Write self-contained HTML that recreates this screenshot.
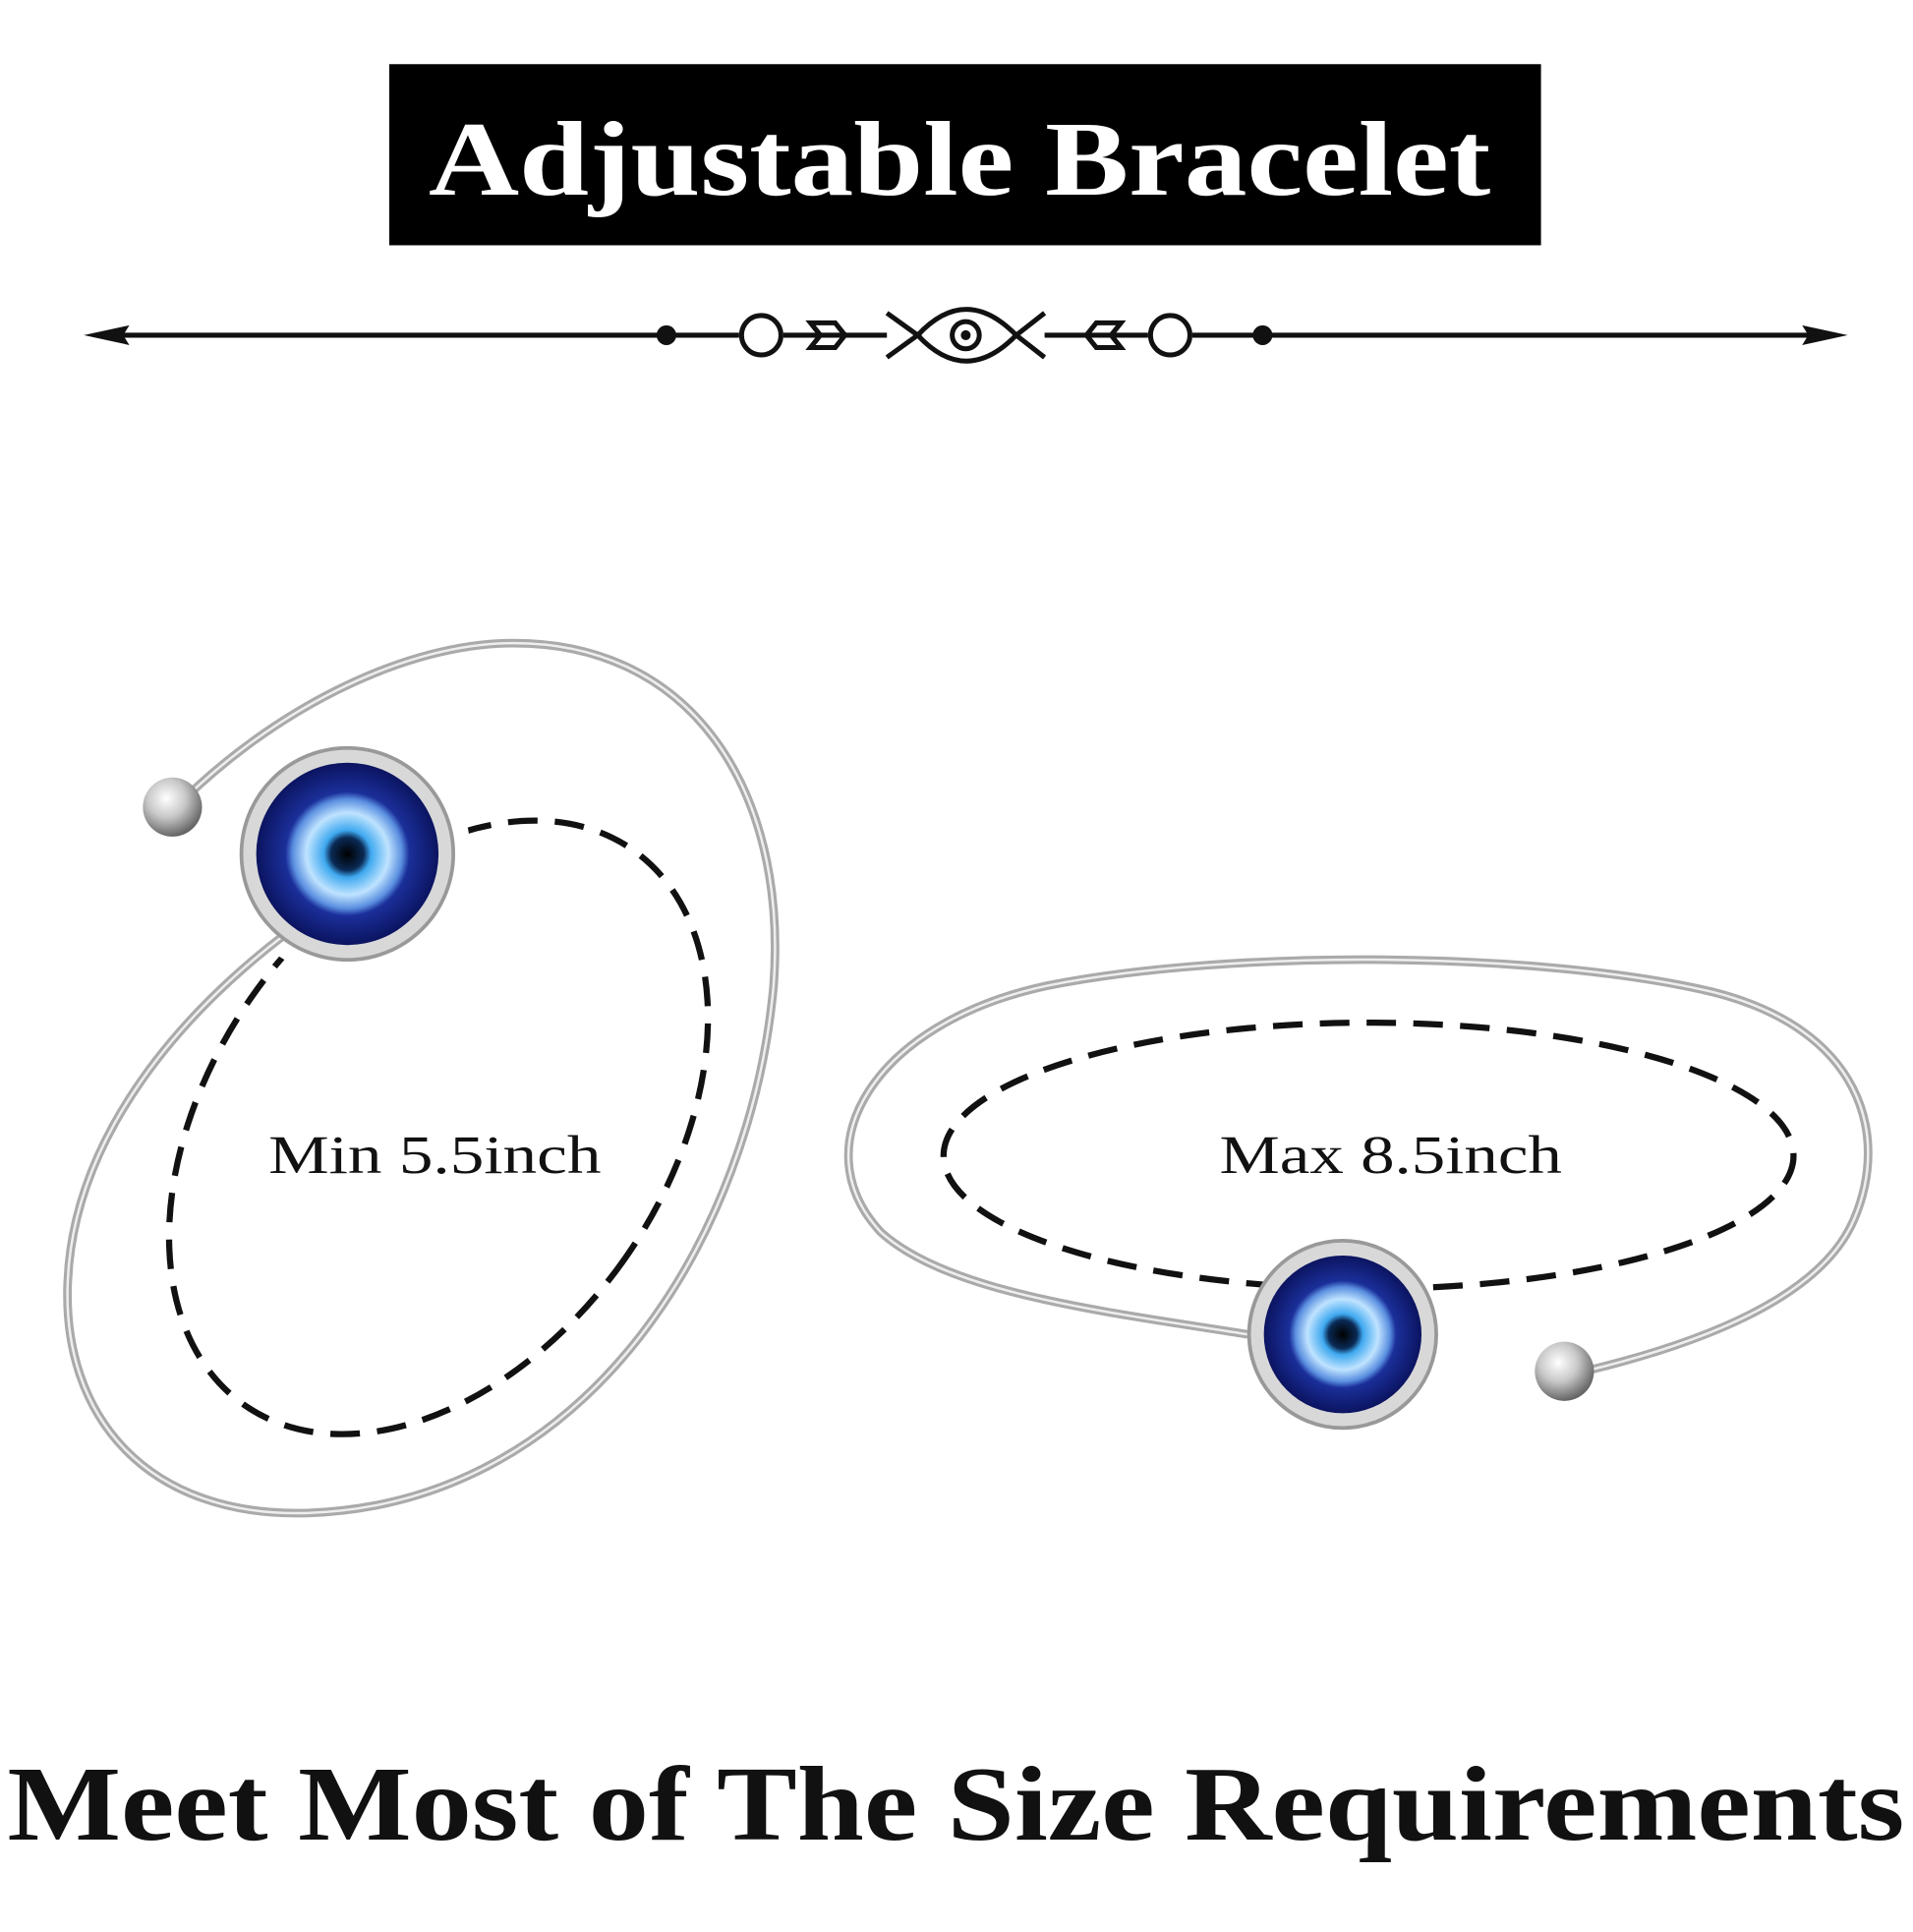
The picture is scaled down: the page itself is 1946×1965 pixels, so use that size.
<!DOCTYPE html>
<html><head><meta charset="utf-8"><style>
html,body{margin:0;padding:0;background:#fff}
svg{display:block}
text{font-family:"Liberation Serif",serif}
</style></head><body>
<svg width="1946" height="1965" viewBox="0 0 1553 1568" xmlns="http://www.w3.org/2000/svg">
<defs>
<radialGradient id="eye" cx="50%" cy="50%" r="50%">
<stop offset="0" stop-color="#000"/><stop offset="0.18" stop-color="#0a2a55"/>
<stop offset="0.26" stop-color="#3fa9f0"/><stop offset="0.45" stop-color="#bfe3ff"/>
<stop offset="0.6" stop-color="#5a8fe0"/><stop offset="0.68" stop-color="#1b2f9a"/>
<stop offset="1" stop-color="#0b1460"/></radialGradient>
<radialGradient id="ball" cx="40%" cy="35%" r="65%">
<stop offset="0" stop-color="#fff"/><stop offset="0.5" stop-color="#c8c8c8"/><stop offset="1" stop-color="#666"/></radialGradient>
</defs>
<rect width="1553" height="1568" fill="#fff"/>
<rect x="316" y="52" width="935" height="147" fill="#000"/>
<text x="779" y="158" text-anchor="middle" font-size="86" font-weight="bold" fill="#fff" textLength="862" lengthAdjust="spacingAndGlyphs">Adjustable Bracelet</text>
<!-- divider -->
<g stroke="#111" stroke-width="4" fill="none">
<line x1="80" y1="272" x2="600" y2="272"/><line x1="636" y1="272" x2="720" y2="272"/>
<line x1="848" y1="272" x2="932" y2="272"/><line x1="968" y1="272" x2="1490" y2="272"/>
<circle cx="618" cy="272" r="16"/><circle cx="950" cy="272" r="16"/>
<path d="M658 262 L678 262 L686 272 L678 282 L658 282 L666 272 Z"/>
<path d="M910 262 L890 262 L882 272 L890 282 L910 282 L902 272 Z"/>
<path d="M720 254 L745 272 L720 290 M745 272 Q784 230 825 272 Q784 314 745 272 M825 272 L848 254 M825 272 L848 290"/>
<circle cx="784" cy="272" r="11"/>
</g>
<circle cx="784" cy="272" r="4" fill="#111"/>
<circle cx="541" cy="272" r="8" fill="#111"/><circle cx="1025" cy="272" r="8" fill="#111"/>
<path d="M68 272 L105 264 L100 272 L105 280 Z" fill="#111"/>
<path d="M1500 272 L1463 264 L1468 272 L1463 280 Z" fill="#111"/>
<!-- left bracelet -->
<ellipse cx="356" cy="915" rx="185" ry="275" transform="rotate(35 356 915)" fill="none" stroke="#111" stroke-width="5" stroke-dasharray="24 14"/>
<circle cx="282" cy="693" r="100" fill="#fff"/>
<path d="M150 648 C220 580 320 525 410 522 C560 518 640 640 628 800 C610 1000 480 1220 250 1228 C120 1232 50 1150 55 1040 C60 920 150 820 232 758" fill="none" stroke="#aaa" stroke-width="7"/>
<path d="M150 648 C220 580 320 525 410 522 C560 518 640 640 628 800 C610 1000 480 1220 250 1228 C120 1232 50 1150 55 1040 C60 920 150 820 232 758" fill="none" stroke="#eee" stroke-width="2"/>
<circle cx="140" cy="655" r="24" fill="url(#ball)"/>
<circle cx="282" cy="693" r="86" fill="#d8d8d8" stroke="#999" stroke-width="3"/>
<circle cx="282" cy="693" r="74" fill="url(#eye)"/>
<text x="353" y="952" text-anchor="middle" font-size="44" fill="#111" textLength="270" lengthAdjust="spacingAndGlyphs">Min 5.5inch</text>
<!-- right bracelet -->
<path d="M1013 1083 C900 1065 770 1050 715 1000 C650 930 710 830 850 800 C1000 770 1250 772 1390 805 C1510 835 1535 920 1505 990 C1475 1060 1360 1095 1290 1112" fill="none" stroke="#aaa" stroke-width="7"/>
<path d="M1013 1083 C900 1065 770 1050 715 1000 C650 930 710 830 850 800 C1000 770 1250 772 1390 805 C1510 835 1535 920 1505 990 C1475 1060 1360 1095 1290 1112" fill="none" stroke="#eee" stroke-width="2"/>
<ellipse cx="1111" cy="938" rx="345" ry="108" fill="none" stroke="#111" stroke-width="5" stroke-dasharray="24 14"/>
<circle cx="1270" cy="1113" r="24" fill="url(#ball)"/>
<circle cx="1090" cy="1083" r="76" fill="#d8d8d8" stroke="#999" stroke-width="3"/>
<circle cx="1090" cy="1083" r="64" fill="url(#eye)"/>
<text x="1129" y="952" text-anchor="middle" font-size="44" fill="#111" textLength="278" lengthAdjust="spacingAndGlyphs">Max 8.5inch</text>
<text x="776" y="1493" text-anchor="middle" font-size="86" font-weight="bold" fill="#111" textLength="1540" lengthAdjust="spacingAndGlyphs">Meet Most of The Size Requirements</text>
</svg>
</body></html>
